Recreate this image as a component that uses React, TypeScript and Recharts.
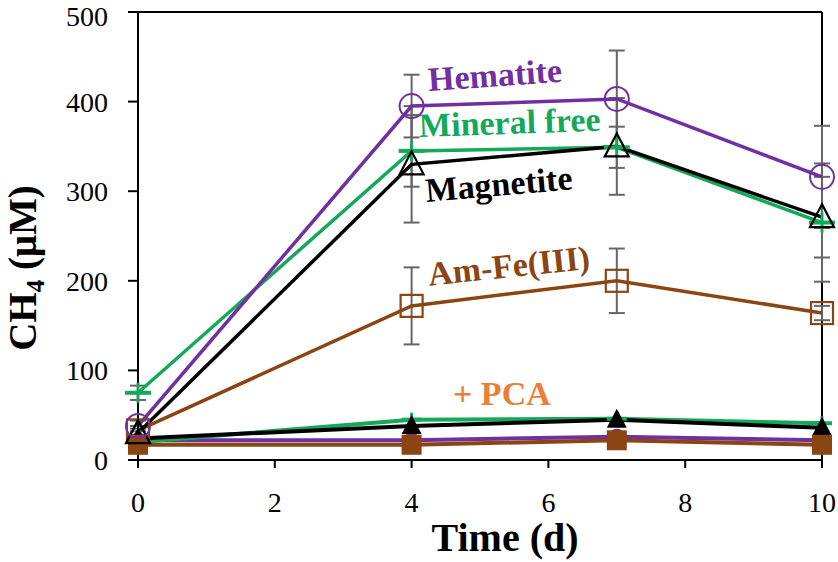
import React from "react";
import {
    LineChart,
    Line,
    XAxis,
    YAxis,
    ErrorBar,
    ReferenceLine,
    ReferenceDot,
} from "recharts";

// sampling days
const days = [0, 4, 7, 10];

// CH4 (uM) without PCA
const hematite = [38, 395, 403, 316];
const hematiteErr = [6, 35, 54, 57];
const mineralFree = [75, 345, 349, 265];
const mineralFreeErr = [8, 40, 23, 66];
const magnetite = [30, 330, 350, 271];
const magnetiteErr = [5, 65, 54, 45];
const amFe = [33, 172, 200, 164];
const amFeErr = [5, 43, 36, 8];

// CH4 (uM) with PCA
const hematitePca = [22, 22, 26, 22];
const mineralFreePca = [20, 45, 46, 41];
const magnetitePca = [24, 38, 45, 36];
const amFePca = [17, 17, 22, 17];

const xTicks = [0, 2, 4, 6, 8, 10];
const yTicks = [0, 100, 200, 300, 400, 500];

// in-plot labels: [text, x, y, colour, angle]
const notes: [string, number, number, string, number][] = [
    ["Hematite", 5.23, 417, "#7030a0", -4],
    ["Mineral free", 5.44, 364, "#14a85a", -2],
    ["Magnetite", 5.29, 295, "#000000", -5],
    ["Am-Fe(III)", 5.44, 204, "#8b4513", -6],
    ["+ PCA", 5.32, 61, "#e8803a", 0],
];

const data = days.map((d, i) => ({
    day: d,
    hem: hematite[i],
    hemErr: hematiteErr[i],
    mf: mineralFree[i],
    mfErr: mineralFreeErr[i],
    mag: magnetite[i],
    magErr: magnetiteErr[i],
    am: amFe[i],
    amErr: amFeErr[i],
    hemP: hematitePca[i],
    mfP: mineralFreePca[i],
    magP: magnetitePca[i],
    amP: amFePca[i],
}));

const PURPLE = "#7030a0";
const GREEN = "#14a85a";
const BROWN = "#8b4513";
const GREY = "#666666";
const FONT = "'Liberation Serif', 'Times New Roman', serif";

const openCircle = (p: any) => (
    <circle key={p.index} cx={p.cx} cy={p.cy} r={12} fill="none" stroke={PURPLE} strokeWidth={2} />
);
const openTriangle = (p: any) => (
    <polygon
        key={p.index}
        points={`${p.cx},${p.cy - 13} ${p.cx - 12},${p.cy + 10} ${p.cx + 12},${p.cy + 10}`}
        fill="none"
        stroke="#000"
        strokeWidth={2.2}
    />
);
const openSquare = (p: any) => (
    <rect key={p.index} x={p.cx - 11} y={p.cy - 11} width={22} height={22} fill="none" stroke={BROWN} strokeWidth={2.2} />
);
const plus = (w: number, h: number) => (p: any) => (
    <g key={p.index}>
        <line x1={p.cx - w / 2} y1={p.cy} x2={p.cx + w / 2} y2={p.cy} stroke={GREEN} strokeWidth={4} />
        <line x1={p.cx} y1={p.cy - h / 2} x2={p.cx} y2={p.cy + h / 2} stroke={GREEN} strokeWidth={3} />
    </g>
);
const filledCircle = (p: any) => <circle key={p.index} cx={p.cx} cy={p.cy} r={8} fill={PURPLE} />;
const filledTriangle = (p: any) => (
    <polygon
        key={p.index}
        points={`${p.cx},${p.cy - 11} ${p.cx - 10},${p.cy + 8} ${p.cx + 10},${p.cy + 8}`}
        fill="#000"
    />
);
const filledSquare = (p: any) => (
    <rect key={p.index} x={p.cx - 10} y={p.cy - 10} width={20} height={20} fill={BROWN} />
);

// x tick labels sit well below the axis in the original
const XTick = (p: any) => (
    <text x={p.x} y={p.y} dy={44} textAnchor="middle" fontFamily={FONT} fontSize={28} fill="#000">
        {p.payload.value}
    </text>
);

const YLabel = () => (
    <text
        x={36}
        y={268}
        transform="rotate(-90 36 268)"
        textAnchor="middle"
        fontFamily={FONT}
        fontWeight="bold"
        fontSize={39}
        fill="#000"
    >
        CH
        <tspan dy={8} fontSize={25}>4</tspan>
        <tspan dy={-8}> (μM)</tspan>
    </text>
);

const XLabel = () => (
    <text x={505} y={551} textAnchor="middle" fontFamily={FONT} fontWeight="bold" fontSize={40} fill="#000">
        Time (d)
    </text>
);

const App = () => {
    const tickStyle = { fontFamily: FONT, fontSize: 28, fill: "#000" };
    return (
        <div style={{ position: "absolute", left: 0, top: 0, background: "#fff" }}>
            <LineChart width={838} height={562} data={data} margin={{ top: 12, right: 16, left: 0, bottom: 0 }}>
                <XAxis
                    dataKey="day"
                    type="number"
                    domain={[0, 10]}
                    ticks={xTicks}
                    height={102}
                    stroke="#000"
                    strokeWidth={2}
                    tickSize={8}
                    tickMargin={0}
                    tick={<XTick />}
                    label={<XLabel />}
                />
                <YAxis
                    type="number"
                    domain={[0, 500]}
                    ticks={yTicks}
                    width={138}
                    stroke="#000"
                    strokeWidth={2}
                    tickSize={10}
                    tickMargin={20}
                    tick={tickStyle}
                    label={<YLabel />}
                />
                <ReferenceLine y={500} stroke="#000" strokeWidth={2} />
                <ReferenceLine x={10} stroke="#000" strokeWidth={2} />

                <Line dataKey="hemP" stroke={PURPLE} strokeWidth={4} dot={filledCircle} isAnimationActive={false} />
                <Line dataKey="mfP" stroke={GREEN} strokeWidth={4} dot={plus(20, 14)} isAnimationActive={false} />
                <Line dataKey="magP" stroke="#000" strokeWidth={4} dot={filledTriangle} isAnimationActive={false} />
                <Line dataKey="amP" stroke={BROWN} strokeWidth={4} dot={filledSquare} isAnimationActive={false} />

                <Line dataKey="am" stroke={BROWN} strokeWidth={3.5} dot={openSquare} isAnimationActive={false}>
                    <ErrorBar dataKey="amErr" width={8} stroke={GREY} strokeWidth={2} isAnimationActive={false} />
                </Line>
                <Line dataKey="mf" stroke={GREEN} strokeWidth={3.5} dot={plus(26, 20)} isAnimationActive={false}>
                    <ErrorBar dataKey="mfErr" width={8} stroke={GREY} strokeWidth={2} isAnimationActive={false} />
                </Line>
                <Line dataKey="mag" stroke="#000" strokeWidth={3.5} dot={openTriangle} isAnimationActive={false}>
                    <ErrorBar dataKey="magErr" width={8} stroke={GREY} strokeWidth={2} isAnimationActive={false} />
                </Line>
                <Line dataKey="hem" stroke={PURPLE} strokeWidth={3.5} dot={openCircle} isAnimationActive={false}>
                    <ErrorBar dataKey="hemErr" width={8} stroke={GREY} strokeWidth={2} isAnimationActive={false} />
                </Line>

                {notes.map(([text, x, y, color, angle]) => (
                    <ReferenceDot
                        key={text}
                        x={x}
                        y={y}
                        r={0}
                        shape={(p: any) => (
                            <text
                                x={p.cx}
                                y={p.cy}
                                transform={`rotate(${angle} ${p.cx} ${p.cy})`}
                                textAnchor="middle"
                                fontFamily={FONT}
                                fontWeight="bold"
                                fontSize={34}
                                fill={color}
                            >
                                {text}
                            </text>
                        )}
                    />
                ))}
            </LineChart>
        </div>
    );
};

export default App;
